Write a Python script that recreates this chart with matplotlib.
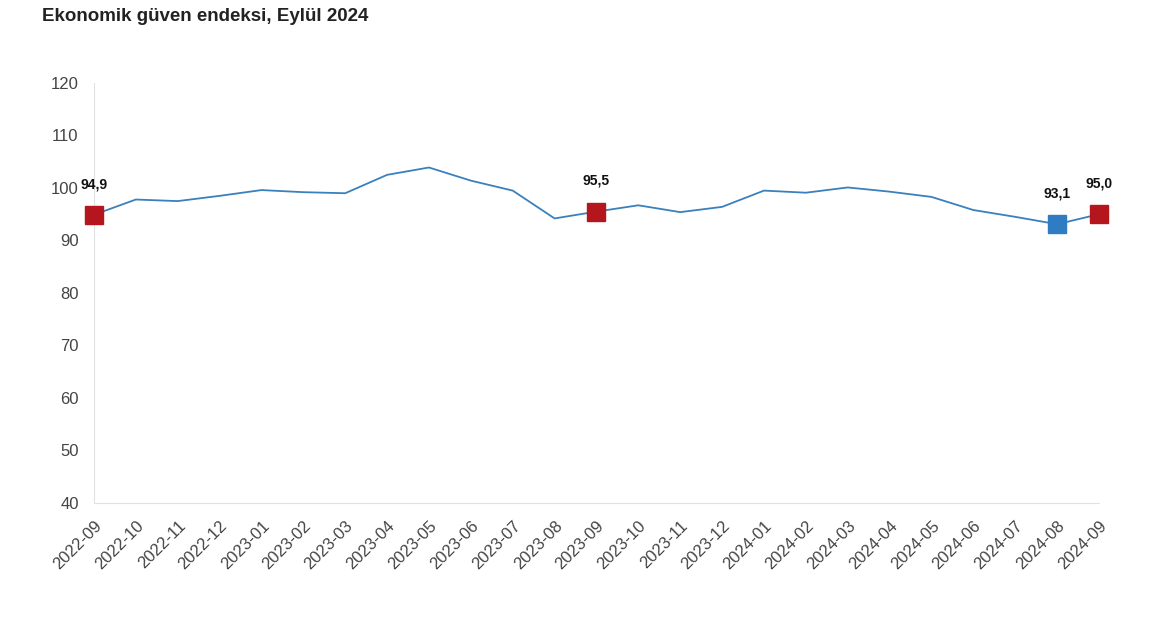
import matplotlib.pyplot as plt

plt.rcParams['font.family'] = ['Liberation Sans', 'DejaVu Sans']

months = ['2022-09', '2022-10', '2022-11', '2022-12', '2023-01', '2023-02', '2023-03',
          '2023-04', '2023-05', '2023-06', '2023-07', '2023-08', '2023-09', '2023-10',
          '2023-11', '2023-12', '2024-01', '2024-02', '2024-03', '2024-04', '2024-05',
          '2024-06', '2024-07', '2024-08', '2024-09']
values = [94.9, 97.8, 97.5, 98.5, 99.6, 99.2, 99.0, 102.5, 103.9, 101.4, 99.5, 94.2,
          95.5, 96.7, 95.4, 96.4, 99.5, 99.1, 100.1, 99.3, 98.3, 95.8, 94.5, 93.1, 95.0]
red_marks = ['2022-09', '2023-09', '2024-09']
blue_marks = ['2024-08']
yticks = [40, 50, 60, 70, 80, 90, 100, 110, 120]

fig = plt.figure(figsize=(11.7, 6.3), dpi=100)
ax = fig.add_axes([0.0803, 0.2016, 0.859, 0.6667])

x = list(range(len(months)))
ax.plot(x, values, '-', color='#3a80bd', lw=1.3, zorder=2)

for m in red_marks + blue_marks:
    i = months.index(m)
    c = '#b5161e' if m in red_marks else '#2f7cc2'
    ax.plot(i, values[i], 's', color=c, markersize=13, zorder=3)
    lab = f"{values[i]:.1f}".replace('.', ',')
    ax.annotate(lab, (i, values[i]), xytext=(0, 17), textcoords='offset points',
                ha='center', va='bottom', fontsize=10, fontweight='bold', color='#111')

ax.set_xlim(0, len(months) - 1)
ax.set_ylim(40, 120)
ax.set_yticks(yticks)
ax.set_xticks(x)
ax.set_xticklabels(months, rotation=45, ha='right', rotation_mode='anchor')
ax.tick_params(length=0, labelsize=12, labelcolor='#444')
ax.tick_params(axis='y', pad=11)
ax.tick_params(axis='x', pad=11)
for s in ['top', 'right']:
    ax.spines[s].set_visible(False)
for s in ['left', 'bottom']:
    ax.spines[s].set_color('#e2e2e2')
for ln in ax.lines:
    ln.set_clip_on(False)

fig.text(0.036, 0.974, 'Ekonomik güven endeksi, Eylül 2024', fontsize=13.5,
         fontweight='bold', color='#222', va='center')

fig.savefig('out.png', dpi=100, facecolor='white')
